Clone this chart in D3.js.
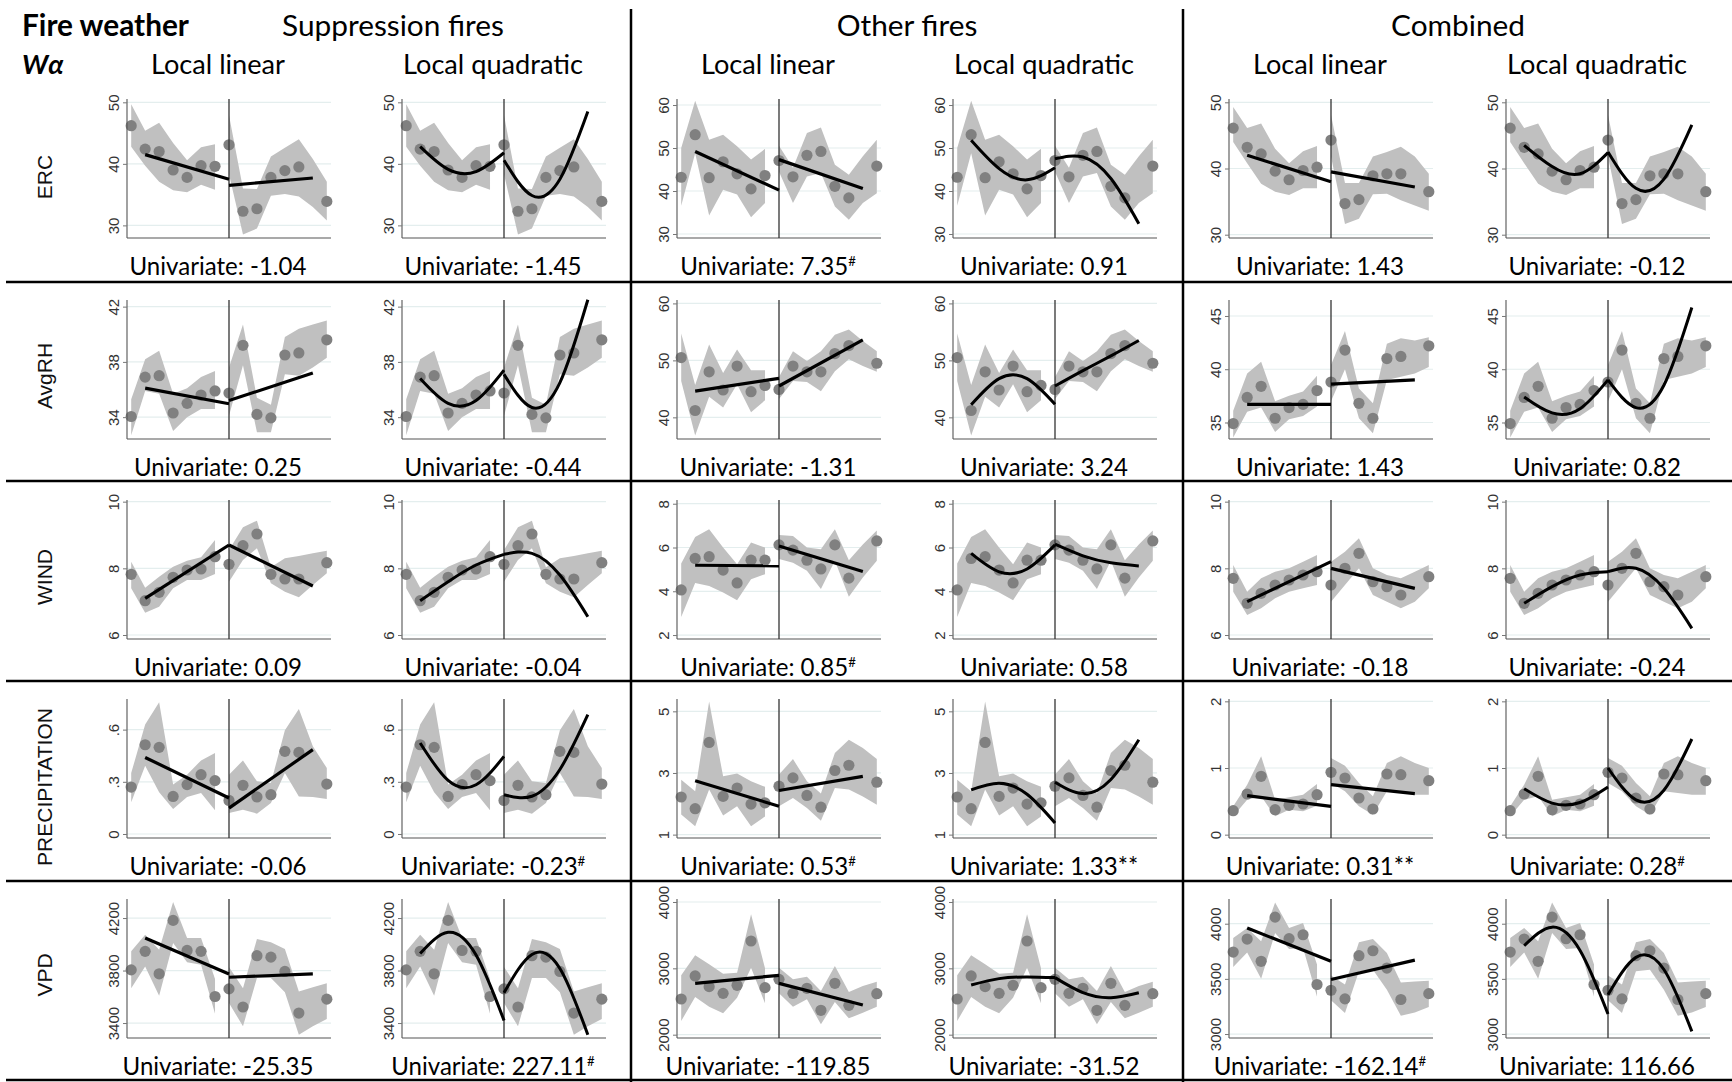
<!DOCTYPE html>
<html><head><meta charset="utf-8">
<script src="https://cdn.jsdelivr.net/npm/d3@7"></script>
<style>body{margin:0;background:#fff;} svg{display:block;}</style>
</head><body>
<svg id="chart" width="1732" height="1082"></svg>
<script>
// ---------------- DATA ----------------
const rowNames = ["ERC", "AvgRH", "WIND", "PRECIPITATION", "VPD"];
const groupNames = ["Suppression fires", "Other fires", "Combined"];
const methodNames = ["Local linear", "Local quadratic"];
const bins = [-7,-6,-5,-4,-3,-2,-1,0,1,2,3,4,5,6,7];
const linX = [-6, 0, 0, 6];
const quadXLeft = [-6, -4, -2, 0];
const quadXRight = [0, 2, 4, 6];

// ERC  (per group: suppression, other, combined)
const ercMeans = [
  [46.2,42.4,42.0,39.0,37.8,39.7,39.6, 43.1,32.3,32.7,37.8,38.9,39.5,null,33.9],
  [43.2,53.1,43.1,46.8,44.0,40.5,43.6, 47.1,43.3,48.3,49.2,41.1,38.4,null,45.8],
  [46.1,43.2,42.2,39.6,38.3,39.7,40.2, 44.3,34.7,35.3,38.9,39.2,39.2,null,36.5]];
const ercUpper = [
  [49.7,45.4,46.7,43.4,40.6,42.7,43.2, 47.9,36.0,35.9,41.2,42.6,44.0,40.8,37.1],
  [50.0,61.0,51.9,53.1,50.4,47.3,49.8, 50.5,45.4,53.5,54.8,46.1,43.8,48.1,51.9],
  [49.3,46.1,46.8,43.0,40.8,42.6,43.4, 48.1,37.8,37.8,41.8,42.5,43.3,41.8,39.2]];
const ercLower = [
  [42.8,39.7,37.1,35.7,35.4,36.6,35.8, 38.3,28.5,29.5,34.8,35.1,34.7,33.0,30.8],
  [36.6,48.8,34.3,40.3,39.2,33.9,37.2, 44.5,37.2,43.4,44.2,36.4,33.3,37.2,39.5],
  [44.0,40.8,37.7,36.5,36.0,37.0,37.0, 41.8,31.6,32.4,36.1,36.2,35.2,34.4,33.6]];
const ercLinear = [[41.5,37.5,36.5,37.7],[49.2,40.2,47.3,40.6],[42.0,38.0,39.5,37.2]];
const ercQuad = [
  [[42.8,39.1,38.75,41.8],[40.6,34.85,37.5,48.5]],
  [[51.8,45.2,42.6,45.4],[47.5,47.9,42.9,32.4]],
  [[43.5,40.3,39.2,42.4],[42.5,37.0,38.4,46.6]]];
const ercTicks = [[30,40,50],[30,40,50,60],[30,40,50]];
const ercDomain = [[27.95,50.54],[29.07,61.4],[29.5,50.5]];
const ercCaptions = [["-1.04",""],["-1.45",""],["7.35","#"],["0.91",""],["1.43",""],["-0.12",""]];

// AvgRH
const rhMeans = [
  [34.05,36.9,37.0,34.3,35.0,35.6,35.9, 35.75,39.2,34.2,33.95,38.5,38.65,null,39.6],
  [50.5,41.2,48.0,44.8,49.0,44.5,45.6, 44.9,49.0,48.0,48.0,51.2,52.6,null,49.5],
  [34.9,37.35,38.4,35.4,36.4,36.7,38.0, 38.8,41.8,36.8,35.4,41.0,41.2,null,42.2]];
const rhUpper = [
  [35.3,38.2,38.8,35.7,36.1,36.9,37.35, 37.6,40.7,35.4,34.9,39.8,40.4,40.7,41.0],
  [54.7,45.7,52.8,47.8,51.9,48.25,48.25, 47.1,51.6,49.9,51.6,54.5,55.4,53.4,51.6],
  [36.1,39.6,40.7,37.0,37.5,37.9,39.4, 40.4,43.6,38.2,36.8,42.4,42.9,42.7,43.0]];
const rhLower = [
  [32.7,35.9,35.7,33.0,34.0,34.6,34.6, 34.1,37.75,32.9,32.9,37.1,37.0,37.6,38.3],
  [46.4,36.8,43.6,41.75,45.8,40.9,43.0, 43.2,46.4,46.2,44.6,48.1,50.2,49.0,48.0],
  [33.6,36.0,36.4,34.1,35.3,35.6,36.5, 37.0,40.0,35.4,34.0,39.0,39.3,39.6,40.2]];
const rhLinear = [[36.1,34.97,35.2,37.2],[44.6,46.85,45.5,53.6],[36.7,36.7,38.6,39.0]];
const rhQuad = [
  [[36.8,35.0,35.2,37.4],[37.1,34.7,36.5,42.5]],
  [[42.2,46.8,46.8,42.3],[45.5,48.2,50.8,53.5]],
  [[37.4,35.9,36.3,39.0],[39.0,36.4,38.5,45.8]]];
const rhTicks = [[34,38,42],[40,50,60],[35,40,45]];
const rhDomain = [[32.42,42.48],[36.2,60.6],[33.45,46.5]];
const rhCaptions = [["0.25",""],["-0.44",""],["-1.31",""],["3.24",""],["1.43",""],["0.82",""]];

// WIND
const windMeans = [
  [7.82,7.03,7.28,7.73,7.95,7.98,8.35, 8.12,8.68,9.03,7.82,7.68,7.68,null,8.17],
  [4.06,5.5,5.58,4.97,4.38,5.42,5.42, 6.12,5.88,5.42,5.02,6.12,4.6,null,6.3],
  [7.7,6.95,7.25,7.5,7.65,7.8,7.9, 7.5,8.0,8.45,7.6,7.45,7.2,null,7.75]];
const windUpper = [
  [8.2,7.42,7.75,8.05,8.23,8.33,8.85, 8.55,9.23,9.43,8.03,8.3,8.37,8.45,8.53],
  [5.27,6.48,6.83,6.0,5.24,6.23,6.0, 6.57,6.53,6.0,5.92,6.83,5.42,6.14,6.78],
  [8.1,7.3,7.7,7.9,8.0,8.2,8.4, 8.2,8.5,8.9,8.0,7.8,7.7,7.9,8.1]];
const windLower = [
  [7.4,6.67,6.85,7.4,7.65,7.65,7.83, 7.6,8.25,8.6,7.55,7.3,7.13,7.5,7.85],
  [2.82,4.38,4.24,3.94,3.59,4.55,4.78, 5.47,5.3,4.94,4.1,5.39,3.75,4.63,5.39],
  [7.3,6.6,6.8,7.1,7.3,7.4,7.5, 7.0,7.5,8.0,7.2,7.0,6.8,7.0,7.4]];
const windLinear = [[7.1,8.7,8.7,7.47],[5.19,5.16,6.07,4.9],[7.0,8.2,8.0,7.4]];
const windQuad = [
  [[7.03,7.6,8.1,8.42],[8.42,8.45,7.8,6.55]],
  [[5.73,4.89,5.02,6.12],[6.15,5.62,5.3,5.16]],
  [[6.95,7.45,7.8,7.9],[7.9,8.0,7.4,6.2]]];
const windTicks = [[6,8,10],[2,4,6,8],[6,8,10]];
const windDomain = [[5.88,10.05],[1.82,8.17],[5.88,10.05]];
const windCaptions = [["0.09",""],["-0.04",""],["0.85","#"],["0.58",""],["-0.18",""],["-0.24",""]];

// PRECIPITATION
const precMeans = [
  [0.27,0.513,0.498,0.216,0.284,0.341,0.307, 0.193,0.28,0.213,0.226,0.475,0.469,null,0.287],
  [2.22,1.84,3.99,2.24,2.51,1.99,2.03, 2.57,2.84,2.27,1.89,3.08,3.25,null,2.70],
  [0.36,0.61,0.875,0.375,0.44,0.46,0.60, 0.935,0.85,0.55,0.385,0.91,0.90,null,0.81]];
const precUpper = [
  [0.35,0.63,0.758,0.284,0.341,0.423,0.466, 0.341,0.423,0.303,0.293,0.596,0.718,0.504,0.379],
  [2.78,2.41,5.32,2.89,2.98,2.73,2.55, 2.95,3.45,2.73,2.33,3.65,4.08,3.81,3.45],
  [0.425,0.75,1.175,0.525,0.56,0.6,0.76, 1.15,1.035,0.775,0.575,1.075,1.175,1.075,1.0]];
const precLower = [
  [0.182,0.393,0.24,0.144,0.213,0.236,0.136, 0.121,0.14,0.117,0.178,0.35,0.216,0.213,0.201],
  [1.65,1.27,2.46,1.62,1.92,1.27,1.59, 1.92,2.19,1.86,1.45,2.51,2.46,2.24,1.97],
  [0.275,0.525,0.575,0.275,0.375,0.35,0.435, 0.775,0.65,0.425,0.3,0.65,0.625,0.6,0.6]];
const precLinear = [[0.44,0.207,0.149,0.485],[2.75,1.92,2.43,2.89],[0.585,0.425,0.75,0.615]];
const precQuad = [
  [[0.523,0.308,0.283,0.446],[0.226,0.217,0.371,0.686]],
  [[2.45,2.67,2.31,1.38],[2.70,2.33,2.79,4.08]],
  [[0.69,0.474,0.482,0.715],[1.0,0.522,0.667,1.435]]];
const precTicks = [[0,0.3,0.6],[1,3,5],[0,1,2]];
const precTickLabels = [["0",".3",".6"],["1","3","5"],["0","1","2"]];
const precDomain = [[-0.023,0.776],[0.89,5.4],[-0.05,2.035]];
const precCaptions = [["-0.06",""],["-0.23","#"],["0.53","#"],["1.33","**"],["0.31","**"],["0.28","#"]];

// VPD
const vpdMeans = [
  [3805,3946,3775,4182,3953,3946,3602, 3660,3522,3913,3902,3793,3476,null,3582],
  [2538,2885,2724,2623,2744,3412,2709, 2834,2623,2699,2367,2774,2442,null,2618],
  [3743,3861,3659,4060,3864,3900,3449, 3397,3319,3710,3755,3598,3313,null,3366]];
const vpdUpper = [
  [3946,4073,3959,4322,4048,4048,3735, 3827,3665,4040,4015,3964,3640,3673,3703],
  [2894,3196,3060,2920,2935,3814,3000, 3010,2834,2874,2658,3035,2643,2734,2799],
  [3870,3961,3840,4193,3961,4006,3630, 3530,3449,3831,3861,3734,3468,3477,3483]];
const vpdLower = [
  [3665,3830,3607,4010,3863,3845,3471, 3553,3375,3743,3743,3634,3311,3375,3430],
  [2206,2568,2422,2322,2558,3010,2472, 2623,2422,2533,2156,2492,2246,2332,2422],
  [3607,3740,3500,3915,3770,3779,3337, 3307,3190,3568,3583,3402,3166,3196,3245]];
const vpdLinear = [[4048,3774,3749,3774],[2774,2894,2774,2447],[3961,3659,3494,3670]];
const vpdQuad = [
  [[3930,4091,3918,3420],[3630,3922,3816,3311]],
  [[2749,2845,2870,2860],[2860,2634,2558,2633]],
  [[3800,3969,3757,3181],[3356,3695,3585,3024]]];
const vpdTicks = [[3400,3800,4200],[2000,3000,4000],[3000,3500,4000]];
const vpdDomain = [[3286,4345],[1950,4045],[2964,4224]];
const vpdCaptions = [["-25.35",""],["227.11","#"],["-119.85",""],["-31.52",""],["-162.14","#"],["116.66",""]];

// table built from the arrays
const rows = [
  {name: rowNames[0], means: ercMeans, upper: ercUpper, lower: ercLower, lin: ercLinear, quad: ercQuad, ticks: ercTicks, labels: null, domain: ercDomain, captions: ercCaptions},
  {name: rowNames[1], means: rhMeans, upper: rhUpper, lower: rhLower, lin: rhLinear, quad: rhQuad, ticks: rhTicks, labels: null, domain: rhDomain, captions: rhCaptions},
  {name: rowNames[2], means: windMeans, upper: windUpper, lower: windLower, lin: windLinear, quad: windQuad, ticks: windTicks, labels: null, domain: windDomain, captions: windCaptions},
  {name: rowNames[3], means: precMeans, upper: precUpper, lower: precLower, lin: precLinear, quad: precQuad, ticks: precTicks, labels: precTickLabels, domain: precDomain, captions: precCaptions},
  {name: rowNames[4], means: vpdMeans, upper: vpdUpper, lower: vpdLower, lin: vpdLinear, quad: vpdQuad, ticks: vpdTicks, labels: null, domain: vpdDomain, captions: vpdCaptions}
];

// ---------------- LAYOUT ----------------
const panelLeft = [127, 402, 677, 953, 1229, 1506];
const plotW = 204;
const rowTop = [99, 300, 500, 699, 899];
const plotH = 139;
const rowLabelY = [177, 376, 577, 787, 975];
const groupCenters = [393, 907, 1458];
const hSeps = [282, 481, 681, 881, 1080];
const vSeps = [631, 1183];
const xDomain = [-7.3, 7.3];

const svg = d3.select("#chart");
const CAL = "Lato, 'Open Sans', sans-serif";
const ARIAL = "'Liberation Sans', Arial, sans-serif";

function fitSize(family, weight, style, sample, target) {
  const t = svg.append("text").attr("font-family", family).attr("font-weight", weight)
    .attr("font-style", style).attr("font-size", 100).text(sample);
  const w = t.node().getComputedTextLength();
  t.remove();
  return 100 * target / w;
}
const titleSize = fitSize(CAL, "bold", "normal", "Fire weather", 167);
const headSize = fitSize(CAL, "normal", "normal", "Suppression fires", 222);
const subSize = fitSize(CAL, "normal", "normal", "Local quadratic", 180);
const capSize = fitSize(CAL, "normal", "normal", "Univariate: -1.04", 177);

// separators
hSeps.forEach(y => svg.append("line").attr("x1", 6).attr("x2", 1732).attr("y1", y).attr("y2", y)
  .attr("stroke", "#000").attr("stroke-width", 2.5));
vSeps.forEach(x => svg.append("line").attr("x1", x).attr("x2", x).attr("y1", 9).attr("y2", 1082)
  .attr("stroke", "#000").attr("stroke-width", 2.5));

// headers
svg.append("text").attr("x", 22).attr("y", 36).attr("font-family", CAL).attr("font-weight", "bold")
  .attr("font-size", titleSize).text("Fire weather");
svg.append("text").attr("x", 22).attr("y", 74).attr("font-family", CAL).attr("font-weight", "bold")
  .attr("font-style", "italic").attr("font-size", subSize).text("Wα");
groupNames.forEach((g, i) => svg.append("text").attr("x", groupCenters[i]).attr("y", 36)
  .attr("text-anchor", "middle").attr("font-family", CAL).attr("font-size", headSize).text(g));
for (let p = 0; p < 6; p++) {
  svg.append("text").attr("x", panelLeft[p] + plotW / 2 - 11).attr("y", 74)
    .attr("text-anchor", "middle").attr("font-family", CAL).attr("font-size", subSize)
    .text(methodNames[p % 2]);
}

// row labels
rows.forEach((r, ri) => {
  svg.append("text").attr("transform", `translate(${44 + 7.5},${rowLabelY[ri]}) rotate(-90)`)
    .attr("text-anchor", "middle").attr("font-family", ARIAL).attr("font-size", 21)
    .attr("fill", "#111").text(r.name);
});

// panels
rows.forEach((r, ri) => {
  const top = rowTop[ri], bottom = top + plotH;
  for (let g = 0; g < 3; g++) {
    for (let m = 0; m < 2; m++) {
      const p = g * 2 + m;
      const L = panelLeft[p];
      const x = d3.scaleLinear().domain(xDomain).range([L, L + plotW]);
      const y = d3.scaleLinear().domain(r.domain[g]).range([bottom, top]);
      const gp = svg.append("g");
      const ticks = r.ticks[g];
      const labs = r.labels ? r.labels[g] : ticks.map(String);

      // gridlines
      gp.selectAll(".grid").data(ticks).join("line")
        .attr("x1", L).attr("x2", L + plotW).attr("y1", d => y(d)).attr("y2", d => y(d))
        .attr("stroke", "#e4eeee").attr("stroke-width", 1.2);

      // bands
      const pts = bins.map((b, i) => ({x: b, m: r.means[g][i], hi: r.upper[g][i], lo: r.lower[g][i]}));
      const area = d3.area().x(d => x(d.x)).y0(d => y(d.lo)).y1(d => y(d.hi));
      [pts.filter(d => d.x < 0), pts.filter(d => d.x >= 0)].forEach(seg => {
        gp.append("path").attr("d", area(seg)).attr("fill", "#c0c0c0").attr("stroke", "none");
      });

      // points
      gp.selectAll(".pt").data(pts.filter(d => d.m !== null)).join("circle")
        .attr("cx", d => x(d.x)).attr("cy", d => y(d.m)).attr("r", 5.6).attr("fill", "#808080");

      // axes
      const ax = d3.axisLeft(y).tickValues(ticks).tickSize(4).tickSizeOuter(0)
        .tickFormat((d, i) => labs[i]);
      const axg = gp.append("g").attr("transform", `translate(${L},0)`).call(ax);
      axg.select(".domain").attr("stroke", "#555").attr("stroke-width", 1.1)
        .attr("d", `M0,${top}V${bottom}`);
      axg.selectAll(".tick line").attr("stroke", "#777");
      axg.selectAll(".tick text").attr("transform", "rotate(-90)")
        .attr("x", 0).attr("y", -8).attr("dy", 0).attr("text-anchor", "middle")
        .attr("font-family", ARIAL).attr("font-size", 15).attr("fill", "#333");
      gp.append("line").attr("x1", L).attr("x2", L + plotW).attr("y1", bottom).attr("y2", bottom)
        .attr("stroke", "#555").attr("stroke-width", 1.1);

      // cutoff
      gp.append("line").attr("x1", x(0)).attr("x2", x(0)).attr("y1", top).attr("y2", bottom)
        .attr("stroke", "#333").attr("stroke-width", 1.3);

      // fits
      if (m === 0) {
        const v = r.lin[g];
        [[0, 1], [2, 3]].forEach(([a, b]) => {
          gp.append("line").attr("x1", x(linX[a])).attr("y1", y(v[a]))
            .attr("x2", x(linX[b])).attr("y2", y(v[b]))
            .attr("stroke", "#000").attr("stroke-width", 3.2).attr("stroke-linecap", "butt");
        });
      } else {
        const q = r.quad[g];
        const line = d3.line().x(d => x(d[0])).y(d => y(d[1])).curve(d3.curveNatural);
        [[quadXLeft, q[0]], [quadXRight, q[1]]].forEach(([xs, ys]) => {
          gp.append("path").attr("d", line(xs.map((xx, i) => [xx, ys[i]])))
            .attr("fill", "none").attr("stroke", "#000").attr("stroke-width", 3);
        });
      }

      // caption
      const cap = r.captions[p];
      const t = svg.append("text").attr("x", L + plotW / 2 - 11).attr("y", bottom + 37)
        .attr("text-anchor", "middle").attr("font-family", CAL).attr("font-size", capSize);
      t.append("tspan").text("Univariate: " + cap[0]);
      if (cap[1] === "#") {
        t.append("tspan").attr("font-size", capSize * 0.55).attr("dy", -capSize * 0.38).text("#");
      } else if (cap[1]) {
        t.append("tspan").text(cap[1]);
      }
    }
  }
});
</script>
</body></html>
